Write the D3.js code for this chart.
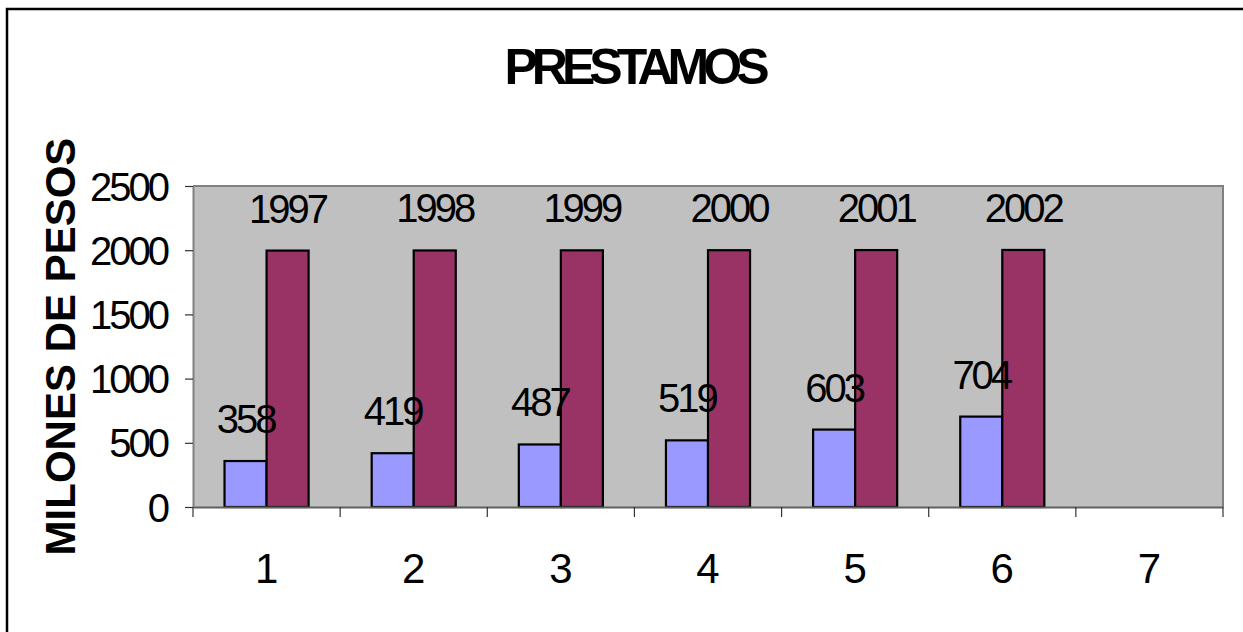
<!DOCTYPE html>
<html>
<head>
<meta charset="utf-8">
<script src="https://cdn.jsdelivr.net/npm/d3@7"></script>
<style>
  html, body { margin: 0; padding: 0; background: #fff; }
  svg { display: block; font-family: Arial, "Liberation Sans", sans-serif; }
</style>
</head>
<body>
<svg id="chart" width="1243" height="632"></svg>
<script>
// ---- data ----
const categories = ["1", "2", "3", "4", "5", "6", "7"];
const prestamos = [358, 419, 487, 519, 603, 704, null];
const anios = [1997, 1998, 1999, 2000, 2001, 2002, null];
const yTicks = [0, 500, 1000, 1500, 2000, 2500];
const titleText = "PRESTAMOS";
const yTitleText = "MILONES DE PESOS";

// ---- layout ----
const plot = { left: 193, right: 1223, top: 186, bottom: 507 };

const svg = d3.select("#chart");

// outer frame (right/bottom fall outside the view)
svg.append("rect")
  .attr("x", 7).attr("y", 9)
  .attr("width", 1300).attr("height", 700)
  .attr("fill", "#fff").attr("stroke", "#000").attr("stroke-width", 2.5);

const x = d3.scaleBand().domain(categories).range([plot.left, plot.right]).padding(0);
const y = d3.scaleLinear().domain([0, 2500]).range([plot.bottom, plot.top]);
const barW = x.bandwidth() / 3.5;

// plot background
svg.append("rect")
  .attr("x", plot.left).attr("y", plot.top)
  .attr("width", plot.right - plot.left).attr("height", plot.bottom - plot.top)
  .attr("fill", "#C0C0C0");
// top & right border of plot area
svg.append("path")
  .attr("d", `M${plot.left},${plot.top}H${plot.right}V${plot.bottom}`)
  .attr("fill", "none").attr("stroke", "#808080").attr("stroke-width", 2);

const rows = categories.map((c, i) => ({ c, p: prestamos[i], a: anios[i] }));

// bars
const g = svg.append("g");
g.selectAll("rect.p").data(rows.filter(d => d.p != null)).join("rect")
  .attr("class", "p")
  .attr("x", d => x(d.c) + x.bandwidth() / 2 - barW)
  .attr("y", d => y(d.p))
  .attr("width", barW)
  .attr("height", d => y(0) - y(d.p))
  .attr("fill", "#9999FF").attr("stroke", "#000").attr("stroke-width", 2.2);
g.selectAll("rect.a").data(rows.filter(d => d.a != null)).join("rect")
  .attr("class", "a")
  .attr("x", d => x(d.c) + x.bandwidth() / 2)
  .attr("y", d => y(d.a))
  .attr("width", barW)
  .attr("height", d => y(0) - y(d.a))
  .attr("fill", "#993366").attr("stroke", "#000").attr("stroke-width", 2.2);

// value labels
const labStyle = sel => sel
  .attr("text-anchor", "middle")
  .attr("font-size", 40)
  .attr("letter-spacing", -3)
  .attr("fill", "#000");
g.selectAll("text.p").data(rows.filter(d => d.p != null)).join("text")
  .attr("class", "p")
  .attr("x", d => x(d.c) + x.bandwidth() / 2 - barW / 2)
  .attr("y", d => y(d.p) - 28)
  .text(d => d.p)
  .call(labStyle);
g.selectAll("text.a").data(rows.filter(d => d.a != null)).join("text")
  .attr("class", "a")
  .attr("x", d => x(d.c) + x.bandwidth() / 2 + barW / 2)
  .attr("y", d => y(d.a) - 28)
  .text(d => d.a)
  .call(labStyle);

// y axis
const yAxis = svg.append("g")
  .attr("transform", `translate(${plot.left},0)`)
  .call(d3.axisLeft(y).tickValues(yTicks).tickFormat(d3.format("d"))
    .tickSize(8).tickPadding(18).tickSizeOuter(0));
yAxis.select(".domain").attr("stroke", "#808080").attr("stroke-width", 2);
yAxis.selectAll(".tick line").attr("stroke", "#333").attr("stroke-width", 1.2);
yAxis.selectAll(".tick text")
  .attr("font-size", 40).attr("letter-spacing", -3)
  .attr("font-family", "Arial, 'Liberation Sans', sans-serif")
  .attr("fill", "#000").attr("dy", "0.35em");

// x axis: labels centred in bands, ticks at band boundaries
const xAxis = svg.append("g")
  .attr("transform", `translate(0,${plot.bottom})`)
  .call(d3.axisBottom(x).tickSize(0).tickPadding(46).tickSizeOuter(0));
xAxis.select(".domain").attr("stroke", "#606060").attr("stroke-width", 2);
xAxis.selectAll(".tick text")
  .attr("font-size", 42)
  .attr("font-family", "Arial, 'Liberation Sans', sans-serif")
  .attr("fill", "#000");
const bounds = d3.range(categories.length + 1).map(i => plot.left + i * x.step());
svg.append("g").selectAll("line").data(bounds).join("line")
  .attr("x1", d => d).attr("x2", d => d)
  .attr("y1", plot.bottom).attr("y2", plot.bottom + 10)
  .attr("stroke", "#333").attr("stroke-width", 1.2);

// titles
svg.append("text")
  .attr("x", 634).attr("y", 84)
  .attr("text-anchor", "middle")
  .attr("font-size", 50).attr("font-weight", "bold")
  .attr("letter-spacing", -6)
  .text(titleText);
svg.append("text")
  .attr("transform", `translate(75,${(plot.top + plot.bottom) / 2}) rotate(-90)`)
  .attr("text-anchor", "middle")
  .attr("font-size", 42).attr("font-weight", "bold")
  .text(yTitleText);
</script>
</body>
</html>
